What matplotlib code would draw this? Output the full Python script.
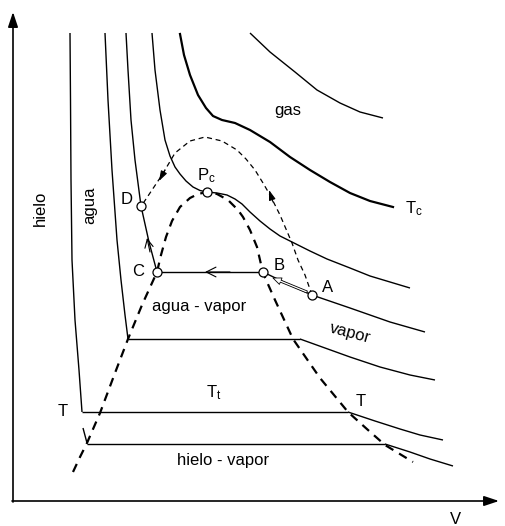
import matplotlib
matplotlib.use("Agg")
import matplotlib.pyplot as plt

plt.rcParams['font.family'] = ['Liberation Sans', 'DejaVu Sans']
plt.rcParams['mathtext.fontset'] = 'custom'
plt.rcParams['mathtext.rm'] = 'Liberation Sans'
plt.rcParams['mathtext.it'] = 'Liberation Sans'

# Isotherms in the V-P plane (screen units, P axis inverted)
iso_hielo_v = [70, 70.5, 71, 72, 75, 79, 82]
iso_hielo_p = [33, 100, 180, 260, 320, 370, 412]
triple_v = [82, 348]
triple_p = [412, 412]
iso_hielo_gas_v = [348, 375, 400, 420, 443]
iso_hielo_gas_p = [412, 421, 429, 435, 440]

iso_agua_v = [105, 108, 112, 117, 121, 125, 128]
iso_agua_p = [33, 100, 170, 240, 280, 315, 339]
plateau2_v = [128, 300]
plateau2_p = [339, 339]
iso_agua_gas_v = [300, 325, 350, 380, 410, 435]
iso_agua_gas_p = [339, 348, 357, 367, 375, 380]

iso3_v = [126, 128, 131, 135, 141, 149, 157]
iso3_p = [33, 70, 120, 160, 206, 242, 272]
plateau3_v = [157, 263]
plateau3_p = [272, 272]
iso3_gas_v = [263, 290, 312, 350, 390, 425]
iso3_gas_p = [272, 285, 295, 308, 322, 332]

iso4_v = [152, 155, 160, 165, 170, 175, 180, 186, 193, 200, 207, 217, 227,
          235, 242, 250, 260, 270, 280, 292, 310, 327, 350, 370, 390, 410]
iso4_p = [33, 70, 110, 140, 156, 167, 174, 181, 187, 190.5, 192, 193, 195,
          199, 204, 212, 221, 229, 236, 242, 251, 259, 268, 276, 282, 288]

iso_tc_v = [180, 184, 190, 198, 206, 213, 222, 235, 250, 270, 290, 310, 330,
            350, 370, 393]
iso_tc_p = [34, 55, 75, 95, 108, 116, 120, 123, 130, 142, 157, 170, 182,
            193, 201, 207]

iso_gas_v = [250, 270, 295, 317, 340, 360, 383]
iso_gas_p = [33, 52, 72, 90, 103, 112, 118]

# Sublimation line and its end
subl_v = [87, 385]
subl_p = [444, 444]
subl_gas_v = [385, 410, 430, 453]
subl_gas_p = [444, 452, 459, 466]
tick_v = [83, 87]
tick_p = [428, 443]

# Saturation dome
dome_v = [73, 80, 87, 100, 115, 128, 142, 157, 161, 166, 172, 180, 190, 198,
          207, 217, 228, 238, 243, 250, 257, 263, 275, 293, 320, 348, 368,
          385, 413]
dome_p = [472, 457, 443, 413, 373, 339, 305, 272, 255, 237, 221, 207, 198,
          194, 192, 194, 200, 210, 217, 230, 247, 273, 300, 339, 378, 412,
          430, 445, 462]

# Path around the critical point, A -> D
path_v = [312, 305, 298, 292, 280, 270, 263, 255, 246, 237, 222, 205, 190,
          175, 162, 152, 142]
path_p = [295, 275, 260, 243, 215, 195, 183, 170, 159, 150, 141, 137, 141,
          153, 175, 190, 205]

# Marked states
point_names = ['A', 'B', 'C', 'D', 'Pc']
point_v = [312, 263, 157, 141, 207]
point_p = [295, 272, 272, 206, 192]

fig = plt.figure(figsize=(5.05, 5.26), dpi=100)
ax = fig.add_axes([0, 0, 1, 1])
ax.set_xlim(0, 505)
ax.set_ylim(526, 0)
ax.axis('off')

thin = dict(color='black', lw=1.0, solid_capstyle='butt',
            solid_joinstyle='round')
for v, p in [(iso_hielo_v, iso_hielo_p), (triple_v, triple_p),
             (iso_hielo_gas_v, iso_hielo_gas_p), (iso_agua_v, iso_agua_p),
             (plateau2_v, plateau2_p), (iso_agua_gas_v, iso_agua_gas_p),
             (iso3_v, iso3_p), (plateau3_v, plateau3_p),
             (iso3_gas_v, iso3_gas_p), (iso4_v, iso4_p),
             (iso_gas_v, iso_gas_p), (subl_v, subl_p),
             (subl_gas_v, subl_gas_p), (tick_v, tick_p)]:
    ax.plot(v, p, **thin)

ax.plot(iso_tc_v, iso_tc_p, color='black', lw=1.6, solid_joinstyle='round')
ax.plot(dome_v, dome_p, color='black', lw=1.6, dashes=(4, 3))
ax.plot(path_v, path_p, color='black', lw=0.9, dashes=(4, 3))

# Axes with arrowheads
ax.annotate('', xy=(13, 12), xytext=(13, 502),
            arrowprops=dict(arrowstyle='-|>,head_length=0.9,head_width=0.3',
                            color='black', lw=1.2, shrinkA=0, shrinkB=0))
ax.annotate('', xy=(499, 501), xytext=(12, 501),
            arrowprops=dict(arrowstyle='-|>,head_length=0.9,head_width=0.3',
                            color='black', lw=1.2, shrinkA=0, shrinkB=0))

# Direction arrows along the process
ax.annotate('', xy=(205, 272), xytext=(230, 272),
            arrowprops=dict(arrowstyle='->,head_length=0.7,head_width=0.35',
                            color='black', lw=0.8, shrinkA=0, shrinkB=0))
ax.annotate('', xy=(147, 238), xytext=(150, 252),
            arrowprops=dict(arrowstyle='->,head_length=0.6,head_width=0.3',
                            color='black', lw=0.8, shrinkA=0, shrinkB=0))
ax.annotate('', xy=(273, 278), xytext=(307, 292),
            arrowprops=dict(arrowstyle='simple,head_length=0.6,head_width=0.5,tail_width=0.15',
                            fc='white', ec='black', lw=0.6, shrinkA=0, shrinkB=0))
ax.annotate('', xy=(269, 190), xytext=(273, 202),
            arrowprops=dict(arrowstyle='-|>,head_length=0.6,head_width=0.2',
                            color='black', lw=0.8, shrinkA=0, shrinkB=0))
ax.annotate('', xy=(159, 181), xytext=(165, 170),
            arrowprops=dict(arrowstyle='-|>,head_length=0.6,head_width=0.2',
                            color='black', lw=0.8, shrinkA=0, shrinkB=0))

ax.plot(point_v, point_p, 'o', ms=6.5, mfc='white', mec='black', mew=0.9,
        zorder=5)

fs = 12
ax.text(40, 208, 'hielo', rotation=90, fontsize=fs, ha='center', va='center')
ax.text(90, 205, 'agua', rotation=90, fontsize=fs, ha='center', va='center')
ax.text(288, 110, 'gas', fontsize=fs, ha='center', va='center')
ax.text(405, 213, r'T$_\mathrm{c}$', fontsize=fs, ha='left', va='baseline')
ax.text(197, 180, r'P$_\mathrm{c}$', fontsize=fs, ha='left', va='baseline')
ax.text(206, 397, r'T$_\mathrm{t}$', fontsize=fs, ha='left', va='baseline')
ax.text(127, 200, 'D', fontsize=fs, ha='center', va='center')
ax.text(138, 271, 'C', fontsize=fs, ha='center', va='center')
ax.text(279, 266, 'B', fontsize=fs, ha='center', va='center')
ax.text(328, 287, 'A', fontsize=fs, ha='center', va='center')
ax.text(199, 306, 'agua - vapor', fontsize=fs, ha='center', va='center')
ax.text(350, 333, 'vapor', rotation=-15, fontsize=fs, ha='center',
        va='center')
ax.text(63, 411, 'T', fontsize=fs, ha='center', va='center')
ax.text(361, 401, 'T', fontsize=fs, ha='center', va='center')
ax.text(223, 460, 'hielo - vapor', fontsize=fs, ha='center', va='center')
ax.text(455, 519, 'V', fontsize=fs, ha='center', va='center')

fig.savefig('out.png', dpi=100)
